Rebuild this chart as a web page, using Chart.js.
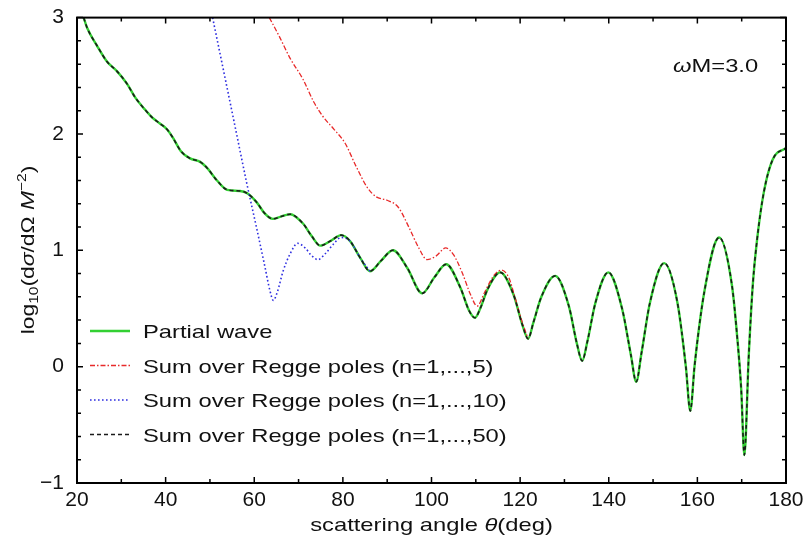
<!DOCTYPE html>
<html>
<head>
    <title>Regge poles vs partial wave</title>
    <style>
        body { margin: 0; background: #fff; }
    </style>
</head>
<body>
    <canvas id="chartId" width="809" height="540"></canvas>

    <script src="https://cdn.jsdelivr.net/npm/chart.js@4.4.1/dist/chart.umd.min.js"></script>

    <script>
        // scattering angle (deg) and log10 of the cross section
        var partialTheta = [21.5, 22.3, 24.5, 26.8, 29.0, 31.3, 33.2, 35.1, 37.0, 38.7, 40.3, 41.6, 43.5, 45.5, 47.8, 49.3,
            51.6, 53.9, 56.8, 58.4, 60.6, 62.3, 64.2, 66.0, 68.1, 71.0, 73.0, 74.9, 77.2, 79.6, 81.6, 84.0, 86.1,
            88.6, 91.3, 94.5, 97.9, 100.7, 103.3, 106.5, 108.5, 109.8, 111.0, 112.6, 115.5, 118.5, 120.5, 121.8,
            123.0, 124.8, 127.9, 131.0, 132.8, 134.0, 135.2, 137.0, 139.9, 143.0, 145.0, 146.2, 147.4, 149.3,
            152.5, 155.5, 157.4, 158.4, 159.4, 161.6, 164.9, 167.8, 169.0, 169.9, 170.6, 171.6, 172.5, 173.5,
            175.0, 177.0, 180.0];
        var partialLog = [3.00, 2.91, 2.76, 2.62, 2.54, 2.43, 2.31, 2.22, 2.14, 2.09, 2.04, 1.97, 1.85, 1.79, 1.76, 1.71,
            1.60, 1.52, 1.51, 1.49, 1.41, 1.32, 1.27, 1.29, 1.31, 1.23, 1.12, 1.04, 1.08, 1.13, 1.08, 0.93, 0.82,
            0.91, 1.00, 0.85, 0.63, 0.77, 0.88, 0.68, 0.48, 0.42, 0.50, 0.66, 0.81, 0.62, 0.36, 0.24,
            0.38, 0.60, 0.78, 0.52, 0.20, 0.05, 0.22, 0.55, 0.81, 0.50, 0.10, -0.13, 0.12, 0.55,
            0.89, 0.55, 0.00, -0.38, 0.02, 0.65, 1.11, 0.70, 0.25, -0.20, -0.76, 0.10, 0.70, 1.10,
            1.50, 1.78, 1.88];

        var regge5Theta = [63.4, 65.5, 68.1, 71.0, 73.5, 75.5, 78.0, 80.5, 83.0, 85.5, 87.5, 90.0, 92.5, 95.0, 97.0,
            99.0, 101.0, 103.2, 105.0, 107.0, 108.8, 110.3, 112.0, 114.0, 115.8, 117.5, 118.8, 120.5, 121.8];
        var regge5Log = [3.00, 2.85, 2.65, 2.47, 2.27, 2.15, 2.04, 1.92, 1.72, 1.54, 1.46, 1.43, 1.37, 1.19, 1.03,
            0.92, 0.95, 1.02, 0.96, 0.80, 0.62, 0.52, 0.64, 0.78, 0.83, 0.76, 0.60, 0.38, 0.24];

        var regge10Theta = [50.6, 53.2, 55.8, 58.4, 60.6, 62.4, 63.5, 64.3, 65.2, 66.5, 68.1, 69.8, 71.5, 72.8, 74.4,
            76.0, 77.8, 79.6, 81.6, 84.0, 86.1];
        var regge10Log = [3.00, 2.52, 2.04, 1.56, 1.18, 0.86, 0.66, 0.57, 0.64, 0.82, 0.97, 1.06, 1.02, 0.96, 0.92,
            0.97, 1.05, 1.11, 1.08, 0.93, 0.82];

        // n=1..50 lies on top of the partial wave curve everywhere
        var regge50Theta = partialTheta.slice();
        var regge50Log = partialLog.slice();

        var xTicks = [20, 40, 60, 80, 100, 120, 140, 160, 180];
        var yTicks = [-1, 0, 1, 2, 3];
        var seriesNames = ['Partial wave', 'Sum over Regge poles (n=1,...,5)',
            'Sum over Regge poles (n=1,...,10)', 'Sum over Regge poles (n=1,...,50)'];

        var FONT = '"Liberation Sans", Arial, sans-serif';

        function toPoints(xs, ys) {
            return xs.map(function (x, i) { return { x: x, y: ys[i] }; });
        }

        // draw a run of text pieces, stretched horizontally by sx
        function drawPieces(ctx, pieces, x, y, sx, align) {
            ctx.save();
            ctx.textBaseline = 'alphabetic';
            ctx.textAlign = 'left';
            var total = 0;
            pieces.forEach(function (p) { ctx.font = p.font; total += ctx.measureText(p.t).width; });
            ctx.translate(x, y);
            ctx.scale(sx, 1);
            var cx = align === 'center' ? -total / 2 : 0;
            pieces.forEach(function (p) {
                ctx.font = p.font;
                ctx.fillText(p.t, cx, p.dy || 0);
                cx += ctx.measureText(p.t).width;
            });
            ctx.restore();
        }

        var framePlugin = {
            id: 'frame',
            afterDraw: function (chart) {
                var ctx = chart.ctx;
                var a = chart.chartArea;
                var xs = chart.scales.x, ys = chart.scales.y;
                ctx.save();
                ctx.strokeStyle = '#000';
                ctx.lineWidth = 2;
                ctx.strokeRect(a.left, a.top, a.right - a.left, a.bottom - a.top);
                ctx.lineWidth = 1.5;
                ctx.beginPath();
                for (var v = 20; v <= 180; v += 10) {
                    var px = xs.getPixelForValue(v);
                    var len = v % 20 === 0 ? 6 : 4;
                    ctx.moveTo(px, a.bottom); ctx.lineTo(px, a.bottom - len);
                    ctx.moveTo(px, a.top); ctx.lineTo(px, a.top + len);
                }
                for (var k = -5; k <= 15; k++) {
                    var py = ys.getPixelForValue(k / 5);
                    var l2 = k % 5 === 0 ? 6 : 4;
                    ctx.moveTo(a.left, py); ctx.lineTo(a.left + l2, py);
                    ctx.moveTo(a.right, py); ctx.lineTo(a.right - l2, py);
                }
                ctx.stroke();

                ctx.fillStyle = '#111';
                var f = '19px ' + FONT, fi = 'italic 19px ' + FONT, fs = '13px ' + FONT;

                // x axis title
                drawPieces(ctx, [{ t: 'scattering angle ', font: f }, { t: '\u03b8', font: fi }, { t: '(deg)', font: f }],
                    (a.left + a.right) / 2, 531, 1.25, 'center');

                // y axis title, rotated
                ctx.save();
                ctx.translate(34, 250);
                ctx.rotate(-Math.PI / 2);
                drawPieces(ctx, [{ t: 'log', font: f }, { t: '10', font: fs, dy: 4 }, { t: '(d', font: f },
                    { t: '\u03c3', font: fi }, { t: '/d\u03a9 ', font: f }, { t: 'M', font: fi },
                    { t: '\u22122', font: fs, dy: -8 }, { t: ')', font: f }], 0, 0, 1.2, 'center');
                ctx.restore();

                // annotation
                drawPieces(ctx, [{ t: '\u03c9', font: fi }, { t: 'M=3.0', font: f }], 673, 72, 1.25, 'left');

                // legend inside the plot
                chart.data.datasets.forEach(function (ds, i) {
                    var yy = 331 + i * 34.5;
                    ctx.save();
                    ctx.strokeStyle = ds.borderColor;
                    ctx.lineWidth = ds.borderWidth;
                    ctx.setLineDash(ds.borderDash || []);
                    ctx.beginPath();
                    ctx.moveTo(90, yy); ctx.lineTo(130, yy);
                    ctx.stroke();
                    ctx.restore();
                    drawPieces(ctx, [{ t: seriesNames[i], font: f }], 143, yy + 7, 1.25, 'left');
                });
                ctx.restore();
            }
        };

        var chrt = document.getElementById('chartId').getContext('2d');
        var chartId = new Chart(chrt, {
            type: 'line',
            data: {
                datasets: [{
                    label: seriesNames[0],
                    data: toPoints(partialTheta, partialLog),
                    borderColor: '#33d033',
                    borderWidth: 2.4,
                    order: 3
                }, {
                    label: seriesNames[1],
                    data: toPoints(regge5Theta, regge5Log),
                    borderColor: '#e82a2a',
                    borderWidth: 1.3,
                    borderDash: [5, 2, 1.5, 2],
                    order: 2
                }, {
                    label: seriesNames[2],
                    data: toPoints(regge10Theta, regge10Log),
                    borderColor: '#2e2ee0',
                    borderWidth: 1.6,
                    borderDash: [1.6, 2.4],
                    order: 1
                }, {
                    label: seriesNames[3],
                    data: toPoints(regge50Theta, regge50Log),
                    borderColor: '#1a1a1a',
                    borderWidth: 1.6,
                    borderDash: [4, 3],
                    order: 0
                }]
            },
            options: {
                responsive: false,
                animation: false,
                devicePixelRatio: 1,
                layout: { padding: { left: 0, right: 23, top: 16, bottom: 0 } },
                elements: {
                    point: { radius: 0 },
                    line: { cubicInterpolationMode: 'monotone', fill: false }
                },
                scales: {
                    x: {
                        type: 'linear',
                        min: 20,
                        max: 180,
                        afterBuildTicks: function (s) { s.ticks = xTicks.map(function (v) { return { value: v }; }); },
                        afterFit: function (s) { s.height = 57; },
                        grid: { display: false },
                        border: { display: false },
                        ticks: { color: '#111', padding: -3, font: { size: 21, family: FONT }, maxRotation: 0 }
                    },
                    y: {
                        type: 'linear',
                        min: -1,
                        max: 3,
                        afterBuildTicks: function (s) { s.ticks = yTicks.map(function (v) { return { value: v }; }); },
                        afterFit: function (s) { s.width = 77; },
                        grid: { display: false },
                        border: { display: false },
                        ticks: {
                            color: '#111', padding: 5, font: { size: 21, family: FONT },
                            callback: function (v) { return v < 0 ? '\u2212' + Math.abs(v) : String(v); }
                        }
                    }
                },
                plugins: {
                    legend: { display: false },
                    tooltip: { enabled: false }
                }
            },
            plugins: [framePlugin]
        });
    </script>
</body>
</html>
